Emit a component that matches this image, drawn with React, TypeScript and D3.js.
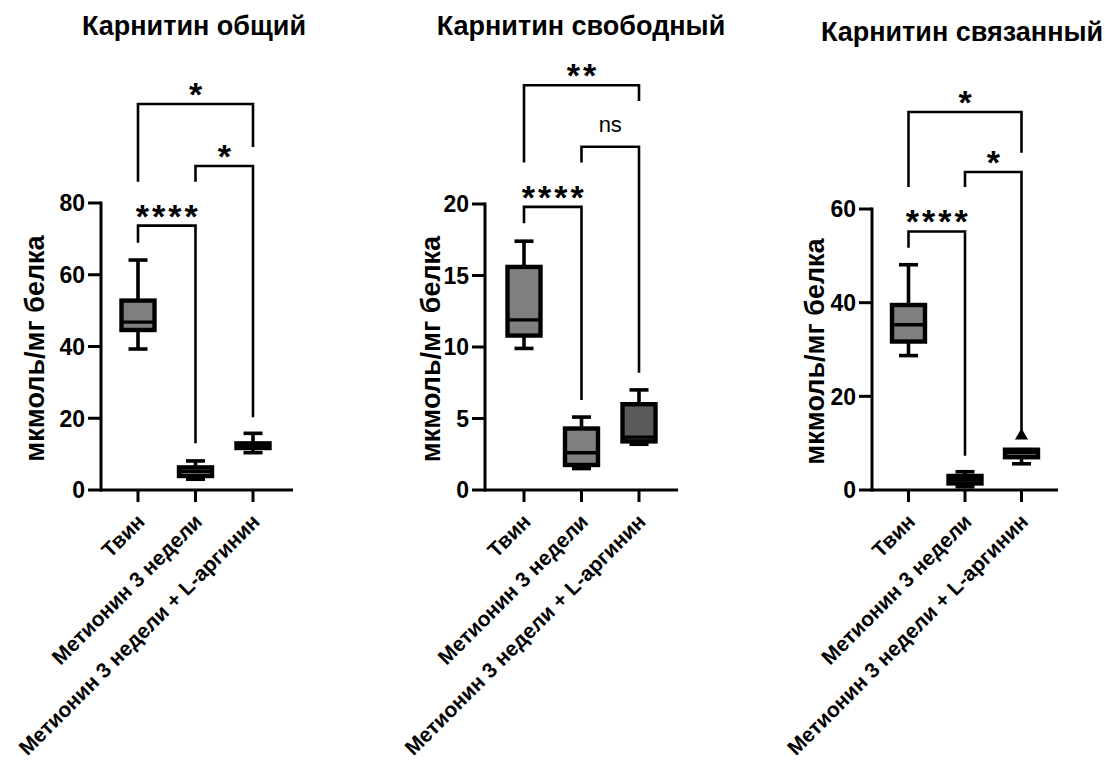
import React from 'react'
import * as d3 from 'd3'

const width = 1105
const height = 760
const font = '"Liberation Sans", Arial, Helvetica, sans-serif'

const groups = ['Твин', 'Метионин 3 недели', 'Метионин 3 недели + L-аргинин']
const yLabel = 'мкмоль/мг белка'

// box stats: [whiskerLow, q1, median, q3, whiskerHigh]
const totalBoxes = [
    [39.3, 44.6, 46.8, 52.8, 64.1],
    [3.0, 3.9, 5.2, 6.3, 8.1],
    [10.4, 11.7, 12.5, 13.0, 15.8],
]
const freeBoxes = [
    [9.9, 10.8, 11.9, 15.6, 17.4],
    [1.5, 1.75, 2.6, 4.3, 5.1],
    [3.2, 3.4, 3.7, 6.0, 7.0],
]
const boundBoxes = [
    [28.7, 31.7, 35.3, 39.5, 48.1],
    [0.7, 1.4, 2.2, 3.0, 3.9],
    [5.6, 7.0, 8.0, 8.6, 8.6],
]
const boundOutliers = [{ group: 2, value: 11.8 }]

const totalTicks = [0, 20, 40, 60, 80]
const freeTicks = [0, 5, 10, 15, 20]
const boundTicks = [0, 20, 40, 60]

// brackets: from group a to group b, level, leg ends (data units)
const totalBrackets = [
    { a: 0, b: 1, level: 73.7, endA: 68.9, endB: 13.0, label: '****' },
    { a: 1, b: 2, level: 90.3, endA: 85.9, endB: 20.3, label: '*' },
    { a: 0, b: 2, level: 107.6, endA: 85.9, endB: 95.6, label: '*' },
]
const freeBrackets = [
    { a: 0, b: 1, level: 19.8, endA: 18.65, endB: 6.3, label: '****' },
    { a: 1, b: 2, level: 24.0, endA: 22.9, endB: 8.2, label: 'ns' },
    { a: 0, b: 2, level: 28.3, endA: 22.9, endB: 27.2, label: '**' },
]
const boundBrackets = [
    { a: 0, b: 1, level: 55.2, endA: 51.7, endB: 7.3, label: '****' },
    { a: 1, b: 2, level: 67.9, endA: 64.7, endB: 12.6, label: '*' },
    { a: 0, b: 2, level: 80.7, endA: 64.7, endB: 72.0, label: '*' },
]

const panels = [
    {
        title: 'Карнитин общий', titleX: 194, titleY: 35,
        left: 101, right: 293, top: 203, bottom: 490, max: 80, catStart: 37, catStep: 57.5,
        ylabX: 35, boxes: totalBoxes, ticks: totalTicks, brackets: totalBrackets, outliers: [],
        fills: ['#7f7f7f', '#7f7f7f', '#7f7f7f'],
    },
    {
        title: 'Карнитин свободный', titleX: 581, titleY: 35,
        left: 485, right: 678, top: 204, bottom: 490, max: 20, catStart: 39, catStep: 57.5,
        ylabX: 431, boxes: freeBoxes, ticks: freeTicks, brackets: freeBrackets, outliers: [],
        fills: ['#7f7f7f', '#7f7f7f', '#5a5a5a'],
    },
    {
        title: 'Карнитин связанный', titleX: 962, titleY: 41,
        left: 872, right: 1058, top: 209, bottom: 490, max: 60, catStart: 36.5, catStep: 56.5,
        ylabX: 815, boxes: boundBoxes, ticks: boundTicks, brackets: boundBrackets, outliers: boundOutliers,
        fills: ['#7f7f7f', '#7f7f7f', '#7f7f7f'],
    },
]

const Panel = ({ p }: { p: any }) => {
    const x = d3
        .scalePoint()
        .domain(groups)
        .range([p.left + p.catStart, p.left + p.catStart + 2 * p.catStep])
    const y = d3.scaleLinear().domain([0, p.max]).range([p.bottom, p.top])
    const boxW = 33
    const capW = 19
    const tri = d3.symbol().type(d3.symbolTriangle).size(75)

    return (
        <g>
            <text x={p.titleX} y={p.titleY} textAnchor="middle" fontSize={27} fontWeight="bold">
                {p.title}
            </text>
            <text
                transform={`translate(${p.ylabX},${(p.top + p.bottom) / 2 + 2}) rotate(-90)`}
                textAnchor="middle"
                dominantBaseline="central"
                fontSize={27}
                fontWeight="bold"
            >
                {yLabel}
            </text>

            {/* y axis */}
            <line x1={p.left} x2={p.left} y1={y(p.max) - 1.5} y2={p.bottom + 1.5} stroke="#000" strokeWidth={3} />
            {p.ticks.map((t: number) => (
                <g key={t}>
                    <line x1={p.left - 13} x2={p.left} y1={y(t)} y2={y(t)} stroke="#000" strokeWidth={3} />
                    <text x={p.left - 16} y={y(t)} dy="0.36em" textAnchor="end" fontSize={23} fontWeight="bold">
                        {t}
                    </text>
                </g>
            ))}

            {/* x axis */}
            <line x1={p.left} x2={p.right} y1={p.bottom} y2={p.bottom} stroke="#000" strokeWidth={3} />
            {groups.map((g) => (
                <g key={g}>
                    <line x1={x(g)} x2={x(g)} y1={p.bottom} y2={p.bottom + 12} stroke="#000" strokeWidth={3} />
                    <text
                        transform={`translate(${(x(g) as number) + 8},${p.bottom + 33}) rotate(-45)`}
                        textAnchor="end"
                        fontSize={21}
                        fontWeight="bold"
                    >
                        {g}
                    </text>
                </g>
            ))}

            {/* boxes */}
            {p.boxes.map((b: number[], i: number) => {
                const cx = x(groups[i]) as number
                const [lo, q1, med, q3, hi] = b
                return (
                    <g key={i} stroke="#000">
                        <line x1={cx} x2={cx} y1={y(hi)} y2={y(q3)} strokeWidth={3.6} />
                        <line x1={cx} x2={cx} y1={y(q1)} y2={y(lo)} strokeWidth={3.6} />
                        <line x1={cx - capW / 2} x2={cx + capW / 2} y1={y(hi)} y2={y(hi)} strokeWidth={3.6} />
                        <line x1={cx - capW / 2} x2={cx + capW / 2} y1={y(lo)} y2={y(lo)} strokeWidth={3.6} />
                        <rect
                            x={cx - boxW / 2}
                            y={y(q3)}
                            width={boxW}
                            height={Math.max(0.5, y(q1) - y(q3))}
                            fill={p.fills[i]}
                            strokeWidth={4.4}
                        />
                        <line x1={cx - boxW / 2} x2={cx + boxW / 2} y1={y(med)} y2={y(med)} strokeWidth={3.4} />
                    </g>
                )
            })}
            {p.outliers.map((o: any, i: number) => (
                <path
                    key={i}
                    d={tri() as string}
                    transform={`translate(${x(groups[o.group])},${y(o.value) + 1})`}
                    fill="#000"
                />
            ))}

            {/* significance brackets */}
            {p.brackets.map((br: any, i: number) => {
                const xa = x(groups[br.a]) as number
                const xb = x(groups[br.b]) as number
                const ns = br.label === 'ns'
                return (
                    <g key={i}>
                        <path
                            d={`M${xa},${y(br.endA)}V${y(br.level)}H${xb}V${y(br.endB)}`}
                            fill="none"
                            stroke="#000"
                            strokeWidth={2.6}
                        />
                        <text
                            x={(xa + xb) / 2 + (ns ? 0 : 1.5)}
                            y={ns ? y(br.level) - 15 : y(br.level) + 2}
                            textAnchor="middle"
                            fontSize={ns ? 22 : 34}
                            fontWeight={ns ? 'normal' : 'bold'}
                            letterSpacing={ns ? 0 : 3}
                        >
                            {br.label}
                        </text>
                    </g>
                )
            })}
        </g>
    )
}

const App = () => {
    return (
        <svg
            width={width}
            height={height}
            style={{ position: 'absolute', left: 0, top: 0, background: '#fff' }}
            fontFamily={font}
        >
            {panels.map((p) => (
                <Panel key={p.title} p={p} />
            ))}
        </svg>
    )
}

export default App
